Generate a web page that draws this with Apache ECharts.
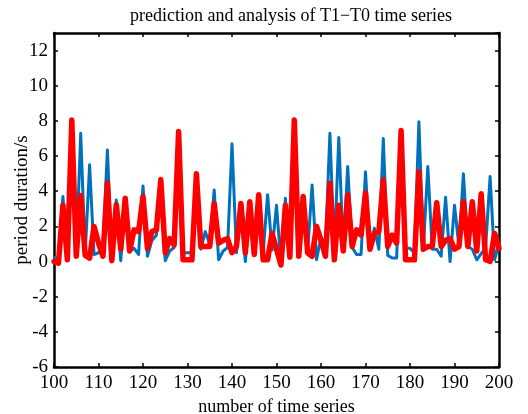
<!DOCTYPE html>
<html>
<head>
<meta charset="utf-8">
<script src="https://cdn.jsdelivr.net/npm/echarts@6/dist/echarts.min.js"></script>
<style>
  html, body { margin: 0; padding: 0; background: #fff; }
  #chart { width: 528px; height: 414px; }
</style>
</head>
<body>
<div id="chart"></div>
<script>
// x runs from 100 to 200, one point per step
var xStart = 100;

// measured T1-T0 durations (blue)
var actual = [
    0.3, 0.0, 3.7, 0.3, 7.6, 0.4, 7.3, 0.4, 5.5, 0.4,
    0.5, 0.9, 6.35, 0.1, 3.5, 0.05, 3.3, 0.6, 0.75, 0.4,
    4.3, 0.3, 1.2, 1.5, 4.2, 0.05, 0.6, 0.8, 6.8, 0.5,
    0.5, 0.5, 4.6, 0.7, 1.7, 1.0, 4.07, 0.1, 0.6, 0.8,
    6.7, 0.5, 3.0, 0.0, 3.1, 0.65, 3.5, 0.5, 3.8, 0.65,
    3.2, -0.1, 3.6, 0.4, 7.6, 0.3, 3.3, 0.6, 4.36, 0.1,
    1.4, 0.9, 7.3, 0.65, 7.05, 0.6, 5.4, 0.8, 0.4, 0.4,
    5.1, 0.7, 1.9, 0.7, 7.0, 0.35, 0.2, 0.2, 7.0, 0.75,
    0.75, 0.5, 7.95, 0.75, 5.4, 0.7, 0.7, 0.3, 3.65, 0.0,
    3.2, 0.85, 5.0, 0.85, 0.7, 0.1, 0.45, 0.8, 4.83, 0.1,
    1.0
];

// predicted durations (red)
var predicted = [
    0.0, -0.1, 3.2, 0.1, 8.05, 0.3, 3.75, 0.35, 0.2, 2.0,
    1.05, 0.3, 4.47, 0.05, 3.24, 0.7, 3.6, 0.6, 1.8, 1.7,
    3.7, 0.75, 1.7, 1.8, 4.66, 0.5, 1.3, 0.95, 7.39, 0.1,
    0.1, 0.1, 5.0, 0.85, 0.85, 0.85, 3.3, 1.05, 1.2, 1.3,
    0.5, 0.85, 3.3, 0.5, 3.4, 0.4, 3.8, 0.1, 0.1, 1.6,
    0.7, -0.2, 3.2, 0.25, 8.05, 0.3, 3.7, 0.5, 0.3, 2.0,
    1.2, 0.3, 4.45, 0.1, 3.2, 0.6, 3.8, 0.85, 1.8, 1.5,
    3.9, 0.7, 1.6, 1.7, 4.65, 0.85, 1.5, 1.05, 7.45, 0.1,
    0.1, 0.1, 5.1, 0.7, 0.85, 0.85, 3.35, 0.85, 1.2, 1.3,
    0.7, 0.85, 3.4, 0.85, 3.4, 0.6, 3.85, 0.1, 0.0, 1.6,
    0.75
];

var font = 'Liberation Serif';

function pairs(values) {
    return values.map(function (v, i) { return [xStart + i, v]; });
}

var chartDom = document.getElementById('chart');
var myChart = echarts.init(chartDom);
var option;

var boxLine = { show: true, onZero: false, lineStyle: { color: '#000', width: 2.5 } };
var boxTick = { show: true, inside: true, length: 4, lineStyle: { color: '#000', width: 1.5 } };

option = {
    animation: false,
    title: {
        text: 'prediction and analysis of T1\u2212T0 time series',
        left: 125,
        top: 2,
        textStyle: {
            fontFamily: font,
            fontSize: 18,
            fontWeight: 'normal',
            color: '#000'
        }
    },
    grid: {
        left: 54,
        right: 29,
        top: 33,
        bottom: 47,
        containLabel: false,
        outerBoundsMode: 'none'
    },
    xAxis: [
        {
            type: 'value',
            min: 100,
            max: 200,
            interval: 10,
            position: 'bottom',
            name: 'number of time series',
            nameLocation: 'middle',
            nameGap: 29,
            nameTextStyle: { fontFamily: font, fontSize: 18, color: '#000' },
            axisLine: boxLine,
            axisTick: boxTick,
            axisLabel: { fontFamily: font, fontSize: 19, color: '#000', margin: 7 },
            splitLine: { show: false }
        },
        {
            type: 'value',
            min: 100,
            max: 200,
            interval: 10,
            position: 'top',
            axisLine: boxLine,
            axisTick: boxTick,
            axisLabel: { show: false },
            splitLine: { show: false }
        }
    ],
    yAxis: [
        {
            type: 'value',
            min: -6,
            max: 13,
            interval: 2,
            position: 'left',
            name: 'period duration/s',
            nameLocation: 'middle',
            nameGap: 22,
            nameMoveOverlap: false,
            nameTextStyle: { fontFamily: font, fontSize: 19, color: '#000' },
            axisLine: boxLine,
            axisTick: boxTick,
            axisLabel: { fontFamily: font, fontSize: 19, color: '#000', margin: 6, showMaxLabel: false },
            splitLine: { show: false }
        },
        {
            type: 'value',
            min: -6,
            max: 13,
            interval: 2,
            position: 'right',
            axisLine: boxLine,
            axisTick: boxTick,
            axisLabel: { show: false },
            splitLine: { show: false }
        }
    ],
    series: [
        {
            name: 'actual',
            type: 'line',
            data: pairs(actual),
            showSymbol: false,
            symbol: 'none',
            z: 2,
            lineStyle: { color: '#0072BD', width: 3, join: 'round' }
        },
        {
            name: 'predicted',
            type: 'line',
            data: pairs(predicted),
            showSymbol: false,
            symbol: 'none',
            z: 3,
            lineStyle: { color: '#FF0000', width: 5.5, join: 'round', cap: 'round' }
        }
    ]
};

option && myChart.setOption(option);
</script>
</body>
</html>
